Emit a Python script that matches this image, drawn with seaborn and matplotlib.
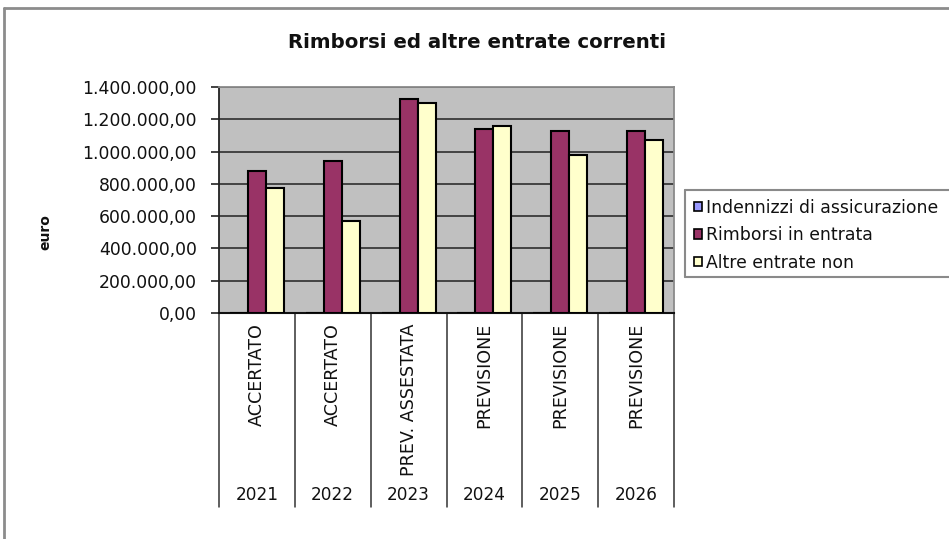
import matplotlib
matplotlib.use("Agg")
import matplotlib.pyplot as plt
from matplotlib.lines import Line2D
from matplotlib.ticker import FuncFormatter, MultipleLocator
import matplotlib.transforms as mtransforms
import numpy as np
import pandas as pd
import seaborn as sns

# --- data -------------------------------------------------------------
years = ["2021", "2022", "2023", "2024", "2025", "2026"]
phases = ["ACCERTATO", "ACCERTATO", "PREV. ASSESTATA",
          "PREVISIONE", "PREVISIONE", "PREVISIONE"]
series = ["Indennizzi di assicurazione", "Rimborsi in entrata", "Altre entrate non"]
indennizzi = [0, 0, 0, 0, 0, 0]
rimborsi = [880000, 942000, 1324000, 1138000, 1127000, 1127000]
altre = [776000, 572000, 1299000, 1157000, 977000, 1072000]
colors = ["#9999FF", "#993366", "#FFFFCC"]

title = "Rimborsi ed altre entrate correnti"
ylabel = "euro"

df = pd.DataFrame({
    "anno": years * 3,
    "serie": [series[0]] * 6 + [series[1]] * 6 + [series[2]] * 6,
    "valore": indennizzi + rimborsi + altre,
})

# --- figure -----------------------------------------------------------
sns.set_style("white")
plt.rcParams["font.family"] = ["DejaVu Sans"]

fig = plt.figure(figsize=(9.49, 5.39), dpi=100)
ax = fig.add_axes([219 / 949, 1 - 313 / 539, (674 - 219) / 949, (313 - 87) / 539])
ax.set_facecolor("#C0C0C0")

sns.barplot(data=df, x="anno", y="valore", hue="serie", hue_order=series,
            order=years, palette=colors, width=0.71, gap=0,
            edgecolor="black", linewidth=1.5, saturation=1,
            ax=ax, legend=True, zorder=3)

# y axis in Italian number format
def it_fmt(v, _pos):
    s = f"{v:,.2f}"
    return s.replace(",", "X").replace(".", ",").replace("X", ".")

ax.set_ylim(0, 1400000)
ax.yaxis.set_major_locator(MultipleLocator(200000))
ax.yaxis.set_major_formatter(FuncFormatter(it_fmt))
ax.tick_params(axis="y", left=True, length=6, width=1.2, color="#222222",
               labelsize=12.4, pad=10, labelcolor="#111111")
ax.grid(axis="y", color="#222222", linewidth=1.1, zorder=1)
ax.set_axisbelow(True)
ax.set_xlim(-0.5, len(years) - 0.5)

ax.set_xlabel("")
ax.set_ylabel("")
ax.set_xticks(range(len(years)))
ax.set_xticklabels([])
ax.tick_params(axis="x", bottom=False, length=0)

for side in ["top", "right"]:
    ax.spines[side].set_color("#8a8a8a")
    ax.spines[side].set_linewidth(1.3)
ax.spines["left"].set_color("#222222")
ax.spines["left"].set_linewidth(1.3)
ax.spines["bottom"].set_color("#111111")
ax.spines["bottom"].set_linewidth(1.5)

# category table below the axis
table_depth = (507 - 313) / (313 - 87)
n = len(years)
for k in range(n + 1):
    ax.plot([k / n, k / n], [0, -table_depth], transform=ax.transAxes,
            color="#333333", linewidth=1.1, clip_on=False)

trans = mtransforms.blended_transform_factory(ax.transData, ax.transAxes)
for i, (yr, ph) in enumerate(zip(years, phases)):
    ax.text(i, -10 / 226, ph, transform=trans, rotation=90, ha="center",
            va="top", fontsize=12.6, color="#111111")
    ax.text(i, -182 / 226, yr, transform=trans, ha="center", va="center",
            fontsize=12.2, color="#111111")

# title and axis label
fig.text(477 / 949, 1 - 43 / 539, title, ha="center", va="center",
         fontsize=14.2, fontweight="bold", color="#111111")
fig.text(45 / 949, 1 - 232 / 539, ylabel, ha="center", va="center",
         rotation=90, fontsize=10, fontweight="bold", color="#111111")

# legend (box drawn separately so it runs off the right edge)
handles, labels = ax.get_legend_handles_labels()
for h in handles:
    h.set_edgecolor("black")
    h.set_linewidth(1.2)
leg = ax.legend(handles, labels, loc="upper left",
                bbox_to_anchor=(686 / 949, 1 - 191 / 539),
                bbox_transform=fig.transFigure, frameon=False,
                fontsize=12.4, handlelength=0.45, handleheight=0.45,
                handletextpad=0.25, labelspacing=0.55, borderpad=0.45,
                borderaxespad=0)
for t in leg.get_texts():
    t.set_color("#111111")

box_l, box_t, box_b = 685 / 949, 1 - 190 / 539, 1 - 277 / 539
for xs, ys in [([box_l, 1], [box_t, box_t]),
               ([box_l, 1], [box_b, box_b]),
               ([box_l, box_l], [box_b, box_t])]:
    fig.add_artist(Line2D(xs, ys, transform=fig.transFigure,
                          color="#8a8a8a", linewidth=1.5))

# outer chart frame
fig.add_artist(Line2D([4 / 949, 4 / 949], [0, 1 - 8 / 539],
                      transform=fig.transFigure, color="#8c8c8c", linewidth=2))
fig.add_artist(Line2D([4 / 949, 1], [1 - 8 / 539, 1 - 8 / 539],
                      transform=fig.transFigure, color="#8c8c8c", linewidth=2))

fig.savefig("out.png", dpi=100, facecolor="white")
